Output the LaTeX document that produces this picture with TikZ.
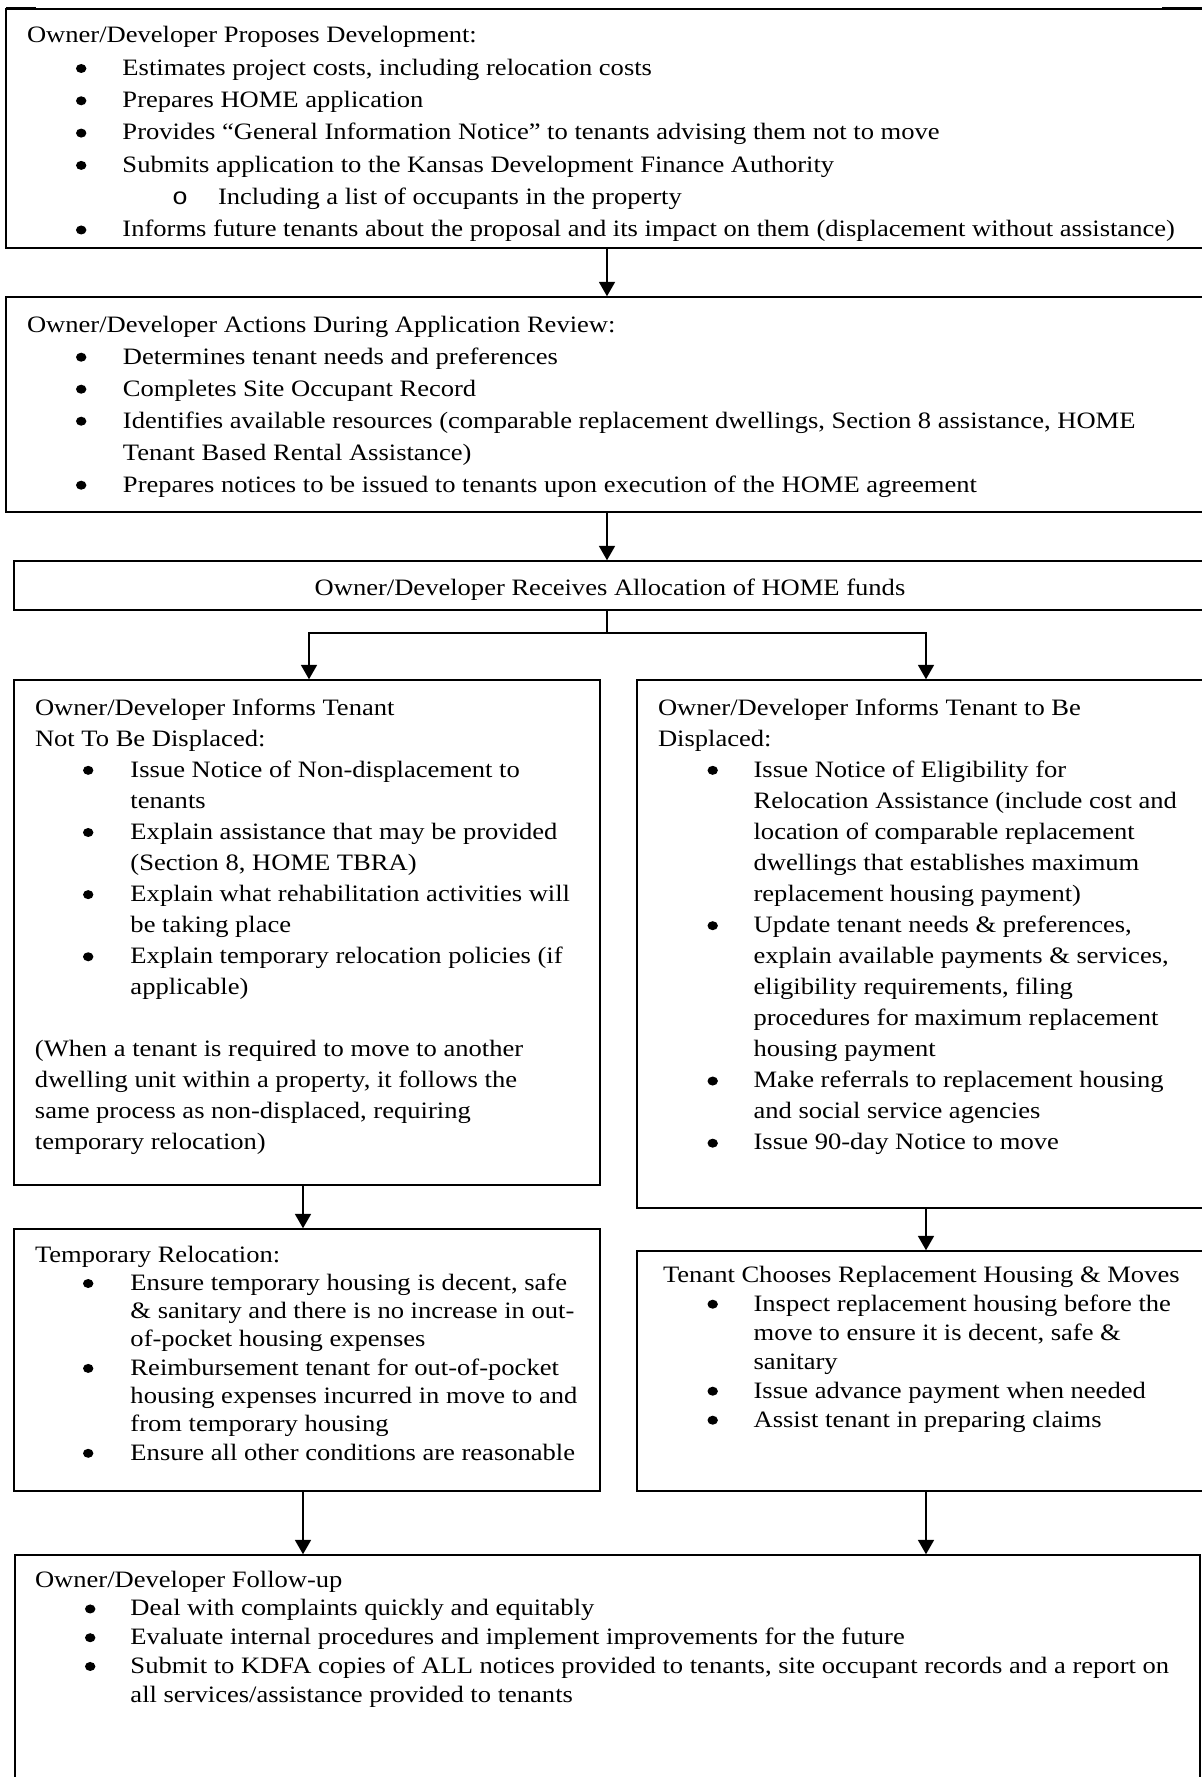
\documentclass[tikz,border=0pt]{standalone}
\usepackage{fontspec}
\setmainfont[Ligatures=CommonOff,FakeStretch=1.13]{Liberation Serif}
\newfontfamily\monofnt[FakeStretch=1.13]{Liberation Mono}
\usetikzlibrary{arrows.meta,fit}
\newlength\px
\setlength\px{0.5pt}
\newcommand\bdot{\tikz[baseline=0pt]\fill (2.6pt,3.4pt) ellipse (2.6pt and 2.25pt);}
% plain line starting at offset #1 (px)
\newcommand\Ln[2]{\hbox{\hspace*{#1\px}#2}}
% bullet line: dot at #1, text at #2
\newcommand\Bl[3]{\hbox{\hspace*{#1\px}\makebox[0pt][l]{\bdot}\hspace*{\dimexpr#2\px-#1\px\relax}#3}}
% sub bullet line: o at #1, text at #2
\newcommand\Sb[3]{\hbox{\hspace*{#1\px}\makebox[0pt][l]{\monofnt o}\hspace*{\dimexpr#2\px-#1\px\relax}#3}}
\begin{document}
\begin{tikzpicture}[x=0.5pt,y=-0.5pt,
  box/.style={draw=black,line width=0.75pt,inner sep=0pt,fill=none},
  txt/.style={inner sep=0pt,outer sep=0pt,font=\fontsize{11.75pt}{16pt}\selectfont},
  arr/.style={draw=black,line width=0.9pt,-{Triangle[width=8pt,length=7.2pt]}},
  conn/.style={draw=black,line width=0.9pt}]
\useasboundingbox (0,0) rectangle (1202,1777);
\fill[white] (0,0) rectangle (1202,1777);
\clip (0,0) rectangle (1202,1777);

% boxes
\node[box,fit={(6,9) (1215,248)}] (b1) {};
\node[box,fit={(6,297) (1215,512)}] (b2) {};
\node[box,fit={(14,561) (1215,610)}] (b3) {};
\node[box,fit={(14,680) (600,1185)}] (b4) {};
\node[box,fit={(637,680) (1215,1208)}] (b5) {};
\node[box,fit={(14,1229) (600,1491)}] (b6) {};
\node[box,fit={(637,1251) (1215,1491)}] (b7) {};
\node[box,fit={(15,1555) (1200,1800)}] (b8) {};

% small heavier segments along the top edge
\draw[line width=1pt] (6,8.4) -- (36,8.4);
\draw[line width=1pt] (1162,8.4) -- (1202,8.4);

% texts
\begin{scope}
\clip (6,9) rectangle (1215,246.5);
\node[txt,anchor=base west] (t1) at (6,43) {\vtop{\baselineskip=32.3\px
\Ln{21}{Owner/Developer Proposes Development:}
\Bl{70}{116.5}{Estimates project costs, including relocation costs}
\Bl{70}{116.5}{Prepares HOME application}
\Bl{70}{116.5}{Provides “General Information Notice” to tenants advising them not to move}
\Bl{70}{116.5}{Submits application to the Kansas Development Finance Authority}
\Sb{166}{212}{Including a list of occupants in the property}
\Bl{70}{116.5}{Informs future tenants about the proposal and its impact on them (displacement without assistance)}
}};
\end{scope}

\node[txt,anchor=base west] (t2) at (6,332) {\vtop{\baselineskip=32\px
\Ln{21}{Owner/Developer Actions During Application Review:}
\Bl{70}{117}{Determines tenant needs and preferences}
\Bl{70}{117}{Completes Site Occupant Record}
\Bl{70}{117}{Identifies available resources (comparable replacement dwellings, Section 8 assistance, HOME}
\Ln{117}{Tenant Based Rental Assistance)}
\Bl{70}{117}{Prepares notices to be issued to tenants upon execution of the HOME agreement}
}};

\node[txt,anchor=base] (t3) at (610,595) {Owner/Developer Receives Allocation of HOME funds};

\node[txt,anchor=base west] (t4) at (14,715) {\vtop{\baselineskip=31.07\px
\Ln{21}{Owner/Developer Informs Tenant}
\Ln{21}{Not To Be Displaced:}
\Bl{69}{116.5}{Issue Notice of Non-displacement to}
\Ln{116.5}{tenants}
\Bl{69}{116.5}{Explain assistance that may be provided}
\Ln{116.5}{(Section 8, HOME TBRA)}
\Bl{69}{116.5}{Explain what rehabilitation activities will}
\Ln{116.5}{be taking place}
\Bl{69}{116.5}{Explain temporary relocation policies (if}
\Ln{116.5}{applicable)}
\hbox{}
\Ln{21}{(When a tenant is required to move to another}
\Ln{21}{dwelling unit within a property, it follows the}
\Ln{21}{same process as non-displaced, requiring}
\Ln{21}{temporary relocation)}
}};

\node[txt,anchor=base west] (t5) at (637,715) {\vtop{\baselineskip=31.07\px
\Ln{21}{Owner/Developer Informs Tenant to Be}
\Ln{21}{Displaced:}
\Bl{70.5}{116.6}{Issue Notice of Eligibility for}
\Ln{116.6}{Relocation Assistance (include cost and}
\Ln{116.6}{location of comparable replacement}
\Ln{116.6}{dwellings that establishes maximum}
\Ln{116.6}{replacement housing payment)}
\Bl{70.5}{116.6}{Update tenant needs \& preferences,}
\Ln{116.6}{explain available payments \& services,}
\Ln{116.6}{eligibility requirements, filing}
\Ln{116.6}{procedures for maximum replacement}
\Ln{116.6}{housing payment}
\Bl{70.5}{116.6}{Make referrals to replacement housing}
\Ln{116.6}{and social service agencies}
\Bl{70.5}{116.6}{Issue 90-day Notice to move}
}};

\node[txt,anchor=base west] (t6) at (14,1262) {\vtop{\baselineskip=28.3\px
\Ln{21}{Temporary Relocation:}
\Bl{69}{116.5}{Ensure temporary housing is decent, safe}
\Ln{116.5}{\& sanitary and there is no increase in out-}
\Ln{116.5}{of-pocket housing expenses}
\Bl{69}{116.5}{Reimbursement tenant for out-of-pocket}
\Ln{116.5}{housing expenses incurred in move to and}
\Ln{116.5}{from temporary housing}
\Bl{69}{116.5}{Ensure all other conditions are reasonable}
}};

\node[txt,anchor=base west] (t7) at (637,1282) {\vtop{\baselineskip=29\px
\Ln{26}{Tenant Chooses Replacement Housing \& Moves}
\Bl{70.5}{116.6}{Inspect replacement housing before the}
\Ln{116.6}{move to ensure it is decent, safe \&}
\Ln{116.6}{sanitary}
\Bl{70.5}{116.6}{Issue advance payment when needed}
\Bl{70.5}{116.6}{Assist tenant in preparing claims}
}};

\node[txt,anchor=base west] (t8) at (15,1587) {\vtop{\baselineskip=28.75\px
\Ln{20}{Owner/Developer Follow-up}
\Bl{70}{115.5}{Deal with complaints quickly and equitably}
\Bl{70}{115.5}{Evaluate internal procedures and implement improvements for the future}
\Bl{70}{115.5}{Submit to KDFA copies of ALL notices provided to tenants, site occupant records and a report on}
\Ln{115.5}{all services/assistance provided to tenants}
}};

% connectors
\coordinate (cx) at (607,0);
\coordinate (lx) at (309,0);
\coordinate (lx2) at (303,0);
\coordinate (rx) at (926,0);
\coordinate (br) at (607,633);
\draw[arr] (b1.south -| cx) -- (b2.north -| cx);
\draw[arr] (b2.south -| cx) -- (b3.north -| cx);
\draw[conn] (b3.south -| cx) -- (br);
\draw[arr] (br) -| (b4.north -| lx);
\draw[arr] (br) -| (b5.north -| rx);
\draw[arr] (b4.south -| lx2) -- (b6.north -| lx2);
\draw[arr] (b5.south -| rx) -- (b7.north -| rx);
\draw[arr] (b6.south -| lx2) -- (b8.north -| lx2);
\draw[arr] (b7.south -| rx) -- (b8.north -| rx);
\end{tikzpicture}
\end{document}
